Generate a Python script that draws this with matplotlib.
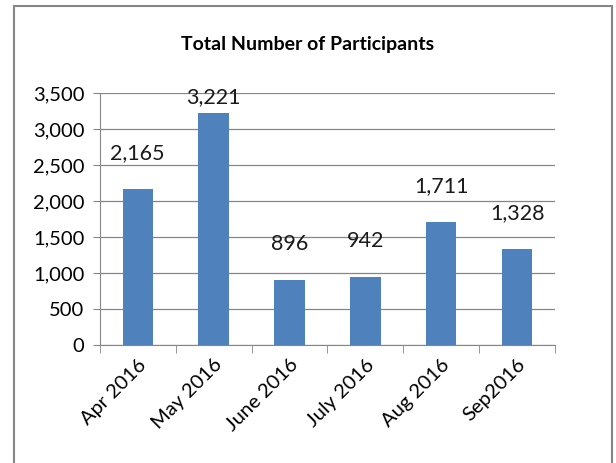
import matplotlib.pyplot as plt
from matplotlib.patches import Rectangle
from matplotlib.ticker import FuncFormatter, MultipleLocator
import numpy as np

months = ['Apr 2016', 'May 2016', 'June 2016', 'July 2016', 'Aug 2016', 'Sep2016']
participants = [2165, 3221, 896, 942, 1711, 1328]

plt.rcParams['font.family'] = ['Lato', 'DejaVu Sans']

fig = plt.figure(figsize=(6.16, 4.63), dpi=100)
ax = fig.add_axes([0.162, 0.255, 0.739, 0.544])

# cadre gris autour du graphique
fig.patches.append(Rectangle((14 / 616, -0.05), 598 / 616, 1.05 - 6 / 463,
                             transform=fig.transFigure, fill=False,
                             edgecolor='#868686', linewidth=1.5))

x = np.arange(len(months))
bars = ax.bar(x, participants, width=0.4, color='#4F81BD', zorder=3)

# étiquettes au-dessus des barres (restent dans la zone du graphique)
for xi, v in zip(x, participants):
    ax.text(xi, min(v + 500, 3450), f'{v:,}', ha='center', va='center',
            fontsize=15.5, color='#1a1a1a')

ax.set_xlim(-0.5, len(months) - 0.5)
ax.set_ylim(0, 3500)
ax.yaxis.set_major_locator(MultipleLocator(500))
ax.yaxis.set_major_formatter(FuncFormatter(lambda v, p: f'{int(v):,}'))
ax.grid(axis='y', color='#868686', linewidth=0.9, zorder=0)

ax.set_xticks(x)
ax.set_xticklabels(months, rotation=45, ha='right', rotation_mode='anchor',
                   fontsize=14.5)
ax.set_xticks(np.arange(-0.5, len(months)), minor=True)
ax.tick_params(axis='x', which='major', length=0, pad=8)
ax.tick_params(axis='x', which='minor', length=6, color='#868686')
ax.tick_params(axis='y', length=5, color='#868686', labelsize=14.5, pad=6)

for s in ['top', 'right']:
    ax.spines[s].set_visible(False)
for s in ['left', 'bottom']:
    ax.spines[s].set_color('#868686')

fig.text(0.5, 0.903, 'Total Number of Participants', ha='center', va='center',
         fontsize=14, fontweight='bold')

plt.savefig('out.png', dpi=100)
plt.close()
